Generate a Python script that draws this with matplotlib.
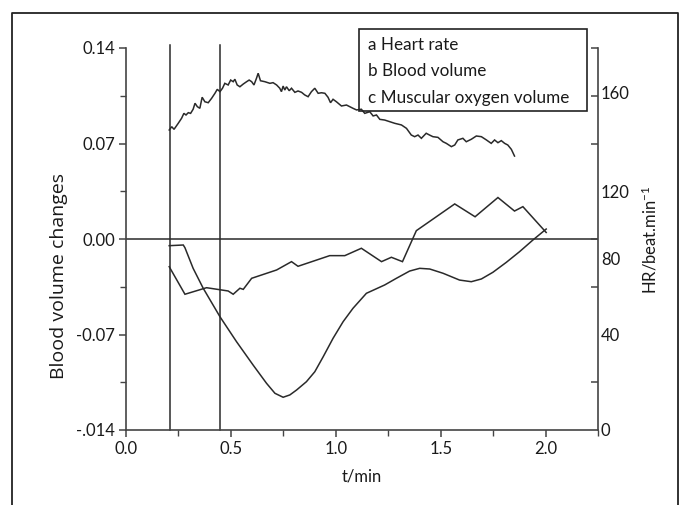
import matplotlib
matplotlib.use('Agg')
import matplotlib.pyplot as plt
from matplotlib.patches import Rectangle
from matplotlib.lines import Line2D

plt.rcParams['font.family'] = ['Lato', 'DejaVu Sans']
plt.rcParams['mathtext.default'] = 'regular'

# ---------------- data ----------------
hr_t = [0.206, 0.218, 0.229, 0.249, 0.265, 0.276, 0.286, 0.297, 0.308, 0.320, 0.329, 0.340,
        0.352, 0.363, 0.376, 0.392, 0.408, 0.424, 0.435, 0.448, 0.460, 0.471, 0.487, 0.499,
        0.511, 0.519, 0.530, 0.543, 0.559, 0.575, 0.587, 0.599, 0.610, 0.622, 0.630, 0.641,
        0.662, 0.686, 0.701, 0.718, 0.733, 0.741, 0.749, 0.757, 0.765, 0.778, 0.789, 0.805,
        0.820, 0.837, 0.852, 0.868, 0.884, 0.900, 0.916, 0.932, 0.948, 0.963, 0.975, 0.987,
        1.003, 1.027, 1.051, 1.082, 1.099, 1.122, 1.138, 1.162, 1.178, 1.194, 1.210, 1.233,
        1.257, 1.281, 1.313, 1.337, 1.360, 1.376, 1.392, 1.408, 1.431, 1.447, 1.463, 1.487,
        1.511, 1.527, 1.551, 1.567, 1.582, 1.606, 1.622, 1.646, 1.670, 1.694, 1.718, 1.741,
        1.757, 1.773, 1.789, 1.805, 1.820, 1.837, 1.852]
hr_v = [0.0799, 0.0823, 0.0804, 0.0848, 0.0885, 0.0921, 0.0909, 0.0926, 0.0921, 0.0951, 0.0995, 0.0970,
        0.0958, 0.1039, 0.1006, 0.0999, 0.1031, 0.1068, 0.1097, 0.1080, 0.1105, 0.1141, 0.1129, 0.1165,
        0.1153, 0.1171, 0.1129, 0.1116, 0.1136, 0.1153, 0.1165, 0.1153, 0.1129, 0.1178, 0.1215, 0.1160,
        0.1153, 0.1141, 0.1146, 0.1129, 0.1105, 0.1080, 0.1121, 0.1092, 0.1116, 0.1087, 0.1105, 0.1075,
        0.1085, 0.1075, 0.1056, 0.1043, 0.1080, 0.1105, 0.1068, 0.1072, 0.1068, 0.1039, 0.0999, 0.1024,
        0.1006, 0.0975, 0.0982, 0.0958, 0.0946, 0.0951, 0.0921, 0.0933, 0.0902, 0.0909, 0.0877, 0.0872,
        0.0860, 0.0848, 0.0836, 0.0811, 0.0762, 0.0750, 0.0762, 0.0738, 0.0775, 0.0762, 0.0750, 0.0745,
        0.0713, 0.0701, 0.0677, 0.0689, 0.0726, 0.0738, 0.0713, 0.0731, 0.0755, 0.0750, 0.0726, 0.0701,
        0.0726, 0.0706, 0.0721, 0.0701, 0.0689, 0.0657, 0.0608]

bv_t = [0.206, 0.281, 0.384, 0.487, 0.511, 0.543, 0.559, 0.599, 0.718, 0.789, 0.820, 0.971,
        1.043, 1.122, 1.218, 1.265, 1.318, 1.384, 1.567, 1.664, 1.773, 1.852, 1.892, 2.003]
bv_v = [-0.0203, -0.0405, -0.0357, -0.0381, -0.0405, -0.0361, -0.0369, -0.0288, -0.0227, -0.0166,
        -0.0200, -0.0122, -0.0122, -0.0068, -0.0166, -0.0134, -0.0166, 0.0061, 0.0257, 0.0163,
        0.0304, 0.0205, 0.0237, 0.0048]

mo_t = [0.206, 0.273, 0.281, 0.320, 0.368, 0.448, 0.527, 0.606, 0.670, 0.710, 0.749, 0.781,
        0.813, 0.860, 0.900, 0.940, 0.987, 1.035, 1.082, 1.146, 1.233, 1.289, 1.352, 1.400,
        1.448, 1.511, 1.590, 1.646, 1.694, 1.749, 1.813, 1.876, 1.940, 2.003]
mo_v = [-0.0049, -0.0044, -0.0064, -0.0215, -0.0361, -0.0570, -0.0753, -0.0924, -0.1058, -0.1131,
        -0.1160, -0.1143, -0.1107, -0.1046, -0.0973, -0.0863, -0.0728, -0.0606, -0.0508, -0.0398,
        -0.0337, -0.0288, -0.0235, -0.0215, -0.0220, -0.0251, -0.0301, -0.0313, -0.0293, -0.0244,
        -0.0171, -0.0093, -0.0007, 0.0073]

marker_t = [0.209, 0.450]

x_ticks = [0.0, 0.5, 1.0, 1.5, 2.0]
x_tick_labels = ['0.0', '0.5', '1.0', '1.5', '2.0']
y_ticks = [-0.14, -0.07, 0.0, 0.07, 0.14]
y_tick_labels = ['-.014', '-0.07', '0.00', '0.07', '0.14']
hr_tick_labels = ['0', '40', '80', '120', '160']
legend_labels = ['a Heart rate', 'b Blood volume', 'c Muscular oxygen volume']

# ---------------- style ----------------
W, H = 691, 505
line_c = '#2a2a2a'
axis_c = '#444444'
text_c = '#1a1a1a'

fig = plt.figure(figsize=(W / 100, H / 100), dpi=100)
ax = fig.add_axes([126 / W, 1 - 430 / H, (598 - 126) / W, (430 - 48) / H])

ax.set_xlim(0, 2.25)
ax.set_ylim(-0.14, 0.14)

for t, v in [(hr_t, hr_v), (bv_t, bv_v), (mo_t, mo_v)]:
    ax.plot(t, v, color=line_c, lw=1.1, solid_joinstyle='miter')

ax.axhline(0.0, color=line_c, lw=1.1)
for m in marker_t:
    ax.plot([m, m], [-0.14, 0.1423], color=line_c, lw=1.1, clip_on=False)

ax.spines['top'].set_visible(False)
ax.spines['right'].set_visible(False)
for s in ['left', 'bottom']:
    ax.spines[s].set_color(axis_c)
    ax.spines[s].set_linewidth(1.2)

ax.set_xticks(x_ticks)
ax.set_xticklabels(x_tick_labels)
ax.set_xticks([0.25, 0.75, 1.25, 1.75, 2.25], minor=True)
ax.set_yticks(y_ticks)
ax.set_yticklabels(y_tick_labels)
ax.set_yticks([-0.105, -0.035, 0.035, 0.105], minor=True)
ax.tick_params(axis='both', which='major', direction='out', length=5, width=1.1,
               color=axis_c, labelsize=12, labelcolor=text_c, pad=3)
ax.tick_params(axis='both', which='minor', direction='out', length=4, width=1.0, color=axis_c)

ax.set_xlabel('t/min', fontsize=12, color=text_c, va='center')
ax.xaxis.set_label_coords((362 - 126) / 472, (430 - 477) / 382)
ax.set_ylabel('Blood volume changes', fontsize=14, color=text_c, va='center',
              family=['Open Sans', 'DejaVu Sans'])
ax.yaxis.set_label_coords((59 - 126) / 472, (430 - 276) / 382)

# right axis (heart rate scale)
ax2 = ax.twinx()
ax2.set_ylim(0, 8)
for s in ['top', 'left', 'bottom']:
    ax2.spines[s].set_visible(False)
ax2.spines['right'].set_color(axis_c)
ax2.spines['right'].set_linewidth(1.2)
ax2.set_yticks([0, 2, 3.6, 5, 7.06])
ax2.set_yticklabels(hr_tick_labels)
ax2.set_yticks(range(0, 9), minor=True)
ax2.tick_params(axis='y', which='major', length=0, labelsize=12, labelcolor=text_c, pad=2)
ax2.tick_params(axis='y', which='minor', direction='in', length=5, width=1.1, color=axis_c)
ax2.set_ylabel(r'HR/beat.min$^{-1}$', fontsize=12, color=text_c, va='center')
ax2.yaxis.set_label_coords((650 - 126) / 472, (430 - 240) / 382)

# legend box
fig.patches.append(Rectangle((359 / W, 1 - 111 / H), (587 - 359) / W, (111 - 29) / H,
                             transform=fig.transFigure, fill=False, edgecolor='#222222', lw=1.2))
for i, lab in enumerate(legend_labels):
    fig.text(368 / W, 1 - (45 + 26.5 * i) / H, lab, fontsize=12.3, color=text_c,
             ha='left', va='center')

# outer frame
fig.lines.append(Line2D([12 / W, 12 / W, 678 / W, 678 / W], [0, 1 - 13 / H, 1 - 13 / H, 0],
                        transform=fig.transFigure, color='#222222', lw=1.3))

fig.savefig('out.png', dpi=100)
